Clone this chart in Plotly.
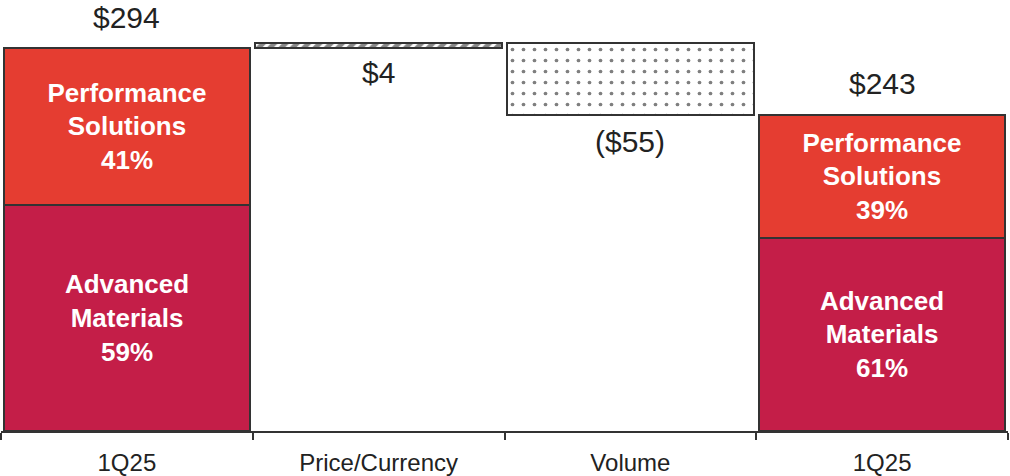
import plotly.graph_objects as go

# Sales bridge, $ millions
categories = ["1Q25", "Price/Currency", "Volume", "1Q25"]
start_total = 294
price_currency = 4
volume = -55
end_total = 243
start_mix = {"Performance Solutions": 41, "Advanced Materials": 59}
end_mix = {"Performance Solutions": 39, "Advanced Materials": 61}
value_labels = ["$294", "$4", "($55)", "$243"]

RED = "#E53D31"
CRIMSON = "#C41E48"
EDGE = "#333333"
FONT = "Arial, Liberation Sans, sans-serif"

x_pos = list(range(len(categories)))
bar_w = 0.98

fig = go.Figure()

# Stacked segment bars for the opening and closing totals
adv = [start_total * start_mix["Advanced Materials"] / 100,
       end_total * end_mix["Advanced Materials"] / 100]
perf = [start_total * start_mix["Performance Solutions"] / 100,
        end_total * end_mix["Performance Solutions"] / 100]
pct_adv = [start_mix["Advanced Materials"], end_mix["Advanced Materials"]]
pct_perf = [start_mix["Performance Solutions"], end_mix["Performance Solutions"]]

fig.add_trace(go.Bar(
    x=[x_pos[0], x_pos[3]], y=adv, base=[0, 0], width=bar_w,
    marker=dict(color=CRIMSON, line=dict(color=EDGE, width=2)),
    text=[f"<b>Advanced<br>Materials<br>{p}%</b>" for p in pct_adv],
    textposition="inside", insidetextanchor="middle",
    textfont=dict(color="white", size=26, family=FONT),
    textangle=0, hoverinfo="skip", showlegend=False,
))
fig.add_trace(go.Bar(
    x=[x_pos[0], x_pos[3]], y=perf, base=adv, width=bar_w,
    marker=dict(color=RED, line=dict(color=EDGE, width=2)),
    text=[f"<b>Performance<br>Solutions<br>{p}%</b>" for p in pct_perf],
    textposition="inside", insidetextanchor="middle",
    textfont=dict(color="white", size=26, family=FONT),
    textangle=0, hoverinfo="skip", showlegend=False,
))

# Price/Currency step (hatched)
fig.add_trace(go.Bar(
    x=[x_pos[1]], y=[price_currency], base=[start_total], width=bar_w,
    marker=dict(color="white", line=dict(color=EDGE, width=2),
                pattern=dict(shape="/", fgcolor="#111111", bgcolor="white",
                             size=8, solidity=0.6)),
    hoverinfo="skip", showlegend=False,
))

# Volume step (dotted)
vol_top = start_total + price_currency
fig.add_trace(go.Bar(
    x=[x_pos[2]], y=[-volume], base=[vol_top + volume], width=bar_w,
    marker=dict(color="white", line=dict(color=EDGE, width=2),
                pattern=dict(shape=".", fgcolor="#000000", bgcolor="white",
                             size=11, solidity=0.09)),
    hoverinfo="skip", showlegend=False,
))

# Value labels: above totals, below steps
label_specs = [
    (x_pos[0], start_total, 31),
    (x_pos[1], start_total, -24),
    (x_pos[2], vol_top + volume, -27),
    (x_pos[3], end_total, 31),
]
for (xv, yv, shift), txt in zip(label_specs, value_labels):
    fig.add_annotation(x=xv, y=yv, text=txt, showarrow=False, yshift=shift,
                       font=dict(size=30, color="#222222", family=FONT))

fig.update_layout(
    width=1010, height=476,
    margin=dict(l=1, r=2, t=0, b=41),
    paper_bgcolor="white", plot_bgcolor="white",
    barmode="overlay", bargap=0,
    font=dict(family=FONT, color="#222222"),
    xaxis=dict(
        range=[-0.5, 3.5], tickvals=x_pos, ticktext=categories,
        ticks="", showgrid=False, zeroline=False,
        showline=True, linecolor=EDGE, linewidth=2,
        tickfont=dict(size=24, color="#222222", family=FONT),
        ticklabelstandoff=9,
        minor=dict(tickvals=[-0.5, 0.5, 1.5, 2.5, 3.5], ticks="outside",
                   ticklen=7, tickcolor=EDGE, tickwidth=2, showgrid=False),
    ),
    yaxis=dict(range=[0, 331], visible=False, showgrid=False, zeroline=False),
)

fig.write_html("out.html")
